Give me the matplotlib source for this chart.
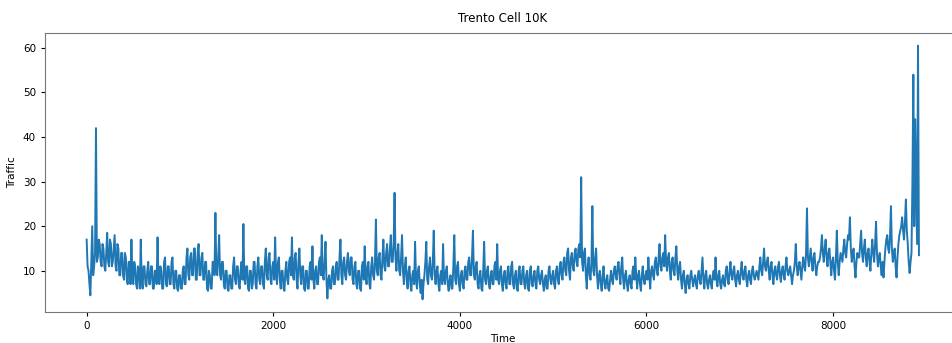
import matplotlib
matplotlib.use('Agg')
import matplotlib.pyplot as plt

# traffic readings, one every 10 time steps
step = 10
traffic = [
    17, 11, 10, 7, 4.5, 12, 20, 9, 11, 14, 42, 12, 13, 17, 16, 12, 11, 16, 15, 11,
    10, 14, 18.5, 12, 11, 17, 16, 11, 12, 15, 18, 11, 10, 16, 15, 9, 9, 14, 14, 9,
    8, 14, 13, 8, 7, 12, 12, 7, 17, 9, 7, 12, 11, 7, 6, 11, 10, 6, 17, 8,
    6, 11, 11, 7, 6.5, 10, 12, 7, 7, 11, 11, 6, 6, 10, 10, 7, 17.5, 8, 7, 11,
    10, 6, 6, 12, 13, 7, 6.5, 11, 11, 7, 7, 12, 13, 7, 6, 10, 10, 6, 5.5, 9,
    9, 6, 6, 10, 11, 7, 7, 13, 15, 9, 8, 13, 14, 9, 9, 15, 15, 8, 8, 14,
    16, 9, 9, 13, 14, 8, 8, 12, 12, 6, 5.5, 10, 9, 6, 6, 12, 12, 9, 23, 10,
    9, 13, 18, 9, 8, 12, 12, 7, 6, 10, 10, 6, 5.5, 9, 9, 6, 6, 11, 13, 8,
    7, 11, 11, 7, 6, 10, 12, 8, 20.5, 8, 7, 11, 11, 6, 5.5, 10, 10, 6, 7, 12,
    12, 7, 6, 11, 13, 8, 7, 11, 11, 7, 6, 12, 15, 9, 8, 13, 14, 8, 7, 11,
    12, 8, 17.5, 9, 7, 12, 13, 8, 6, 10, 10, 6, 5.5, 10, 12, 8, 7, 12, 13, 9,
    17.5, 9, 8, 13, 14, 8, 6, 12, 15, 9, 7, 11, 11, 6, 5.5, 10, 10, 6, 6, 11,
    12, 8, 15.5, 8, 6, 10, 11, 7, 7, 12, 13, 9, 18, 9, 8, 12, 16.5, 8, 3.8, 8,
    9, 6, 6, 10, 11, 7, 7, 11, 12, 8, 8, 13, 17, 9, 7, 12, 13, 9, 8, 12,
    14, 10, 9, 13, 13, 8, 7, 11, 12, 7, 6, 10, 10, 6, 5.5, 11, 12, 8, 15.5, 9,
    7, 11, 12, 7, 6, 11, 13, 9, 8, 12, 21.5, 10, 9, 13, 14, 9, 8, 13, 17, 11,
    10, 14, 16, 11, 11, 15, 18, 12, 12, 16, 27.5, 13, 10, 14, 16, 10, 9, 13, 18, 10,
    7, 11, 13, 8, 6, 10, 11, 7, 5.5, 9, 10, 7, 16.5, 8, 6, 10, 11, 7, 5, 8,
    3.6, 7, 9, 12, 16.5, 8, 7, 11, 13, 9, 8, 12, 19, 9, 7, 10, 11, 7, 5.5, 9,
    10, 7, 16, 8, 7, 10, 11, 7, 5.5, 8, 9, 6, 6, 11, 18, 8, 7, 11, 12, 7,
    5.5, 9, 10, 7, 6, 10, 11, 8, 8, 12, 13, 9, 9, 13, 19, 9, 8, 11, 12, 7,
    6, 9, 10, 6, 5.5, 10, 16.5, 8, 7, 10, 11, 7, 6, 9, 10, 7, 7, 11, 12, 8,
    16, 8, 7, 10, 11, 7, 5.5, 9, 10, 7, 6, 10, 11, 7, 7, 11, 12, 7, 6, 9,
    10, 6, 5.5, 10, 11, 7, 7, 10, 11, 7, 6, 9, 10, 6, 5.5, 10, 11, 7, 6.5, 9,
    10, 7, 6, 10, 11, 8, 7, 9, 10, 7, 5.5, 8, 9, 6, 6, 10, 11, 8, 7, 9,
    10, 7, 6, 10, 11, 8, 7, 11, 12, 9, 8, 12, 13, 10, 9, 14, 15, 10, 8, 13,
    14, 11, 10, 14, 15, 12, 11, 15, 16, 13, 31, 12, 10, 14, 15, 9, 6, 11, 13, 9,
    8, 12, 24.5, 10, 9, 13, 15, 9, 6, 9, 10, 7, 5.5, 9, 11, 7, 6, 8, 9, 6,
    5.5, 8, 10, 8, 7, 10, 11, 9, 8, 11, 12, 9, 7, 11, 13, 8, 6, 9, 10, 7,
    5.5, 8, 9, 7, 6, 10, 11, 8, 13, 9, 6, 9, 10, 7, 5.5, 9, 11, 8, 7, 9,
    10, 8, 13, 9, 6, 10, 11, 9, 8, 12, 13, 10, 9, 13, 16, 11, 10, 13, 14, 11,
    18, 12, 10, 13, 14, 10, 8, 12, 13, 10, 9, 13, 15.5, 10, 8, 11, 12, 8, 6, 9,
    10, 7, 5, 8, 9, 7, 6, 9, 10, 8, 6.5, 8, 9, 7, 6, 9, 10, 8, 7, 10,
    13, 8, 6, 9, 10, 7, 6, 8, 9, 7, 6, 9, 10, 8, 13, 8, 6.5, 9, 10, 7,
    6, 8, 9, 7, 6.5, 10, 11, 8, 7, 10, 12, 9, 8, 10, 11, 8, 6.5, 9, 10, 8,
    7, 10, 12, 9, 8, 10, 11, 8, 6.5, 9, 10, 8, 7, 10, 11, 9, 8, 9, 10, 9,
    8, 11, 13, 10, 9, 12, 15, 11, 10, 12, 13, 10, 8, 11, 12, 9, 7, 10, 11, 9,
    8, 11, 12, 9, 7.5, 10, 11, 9, 8, 11, 13, 10, 9, 10, 11, 9, 7, 9, 10, 12,
    16, 11, 9, 11, 12, 10, 8, 11, 13, 11, 10, 14, 24, 13, 11, 13, 15, 12, 10, 13,
    14, 11, 9, 11, 12, 12, 13, 15, 18, 14, 12, 15, 17, 13, 11, 14, 15, 12, 9, 12,
    13, 10, 8, 13, 19, 12, 9, 12, 14, 13, 12, 15, 17, 14, 13, 16, 18, 17, 22, 15,
    12, 14, 15, 11, 8.5, 12, 14, 13, 13, 16, 19, 14, 12, 15, 17, 13, 11, 14, 15, 12,
    10, 14, 17, 14, 12, 16, 21, 14, 11, 13, 14, 11, 9, 12, 8.5, 12, 15, 17, 18, 15,
    14, 18, 24.5, 15, 12, 14, 15, 11, 8.5, 13, 16, 18, 19, 20, 22, 19, 17, 21, 26, 19,
    16, 12, 9.5, 12, 14, 30, 54, 20, 44, 30, 16, 60.5, 13.5,
]
time = [i * step for i in range(len(traffic))]

fig = plt.figure(figsize=(9.52, 3.43), dpi=100)
# the reference is cropped on the right, so the axes run past the figure edge
ax = fig.add_axes([0.0473, 0.0904, 0.9617, 0.8134])
ax.plot(time, traffic, color='#1f77b4', linewidth=1.4)

ax.set_title('Trento Cell 10K', fontsize=8.5, pad=8)
ax.set_xlabel('Time', fontsize=7.5, labelpad=2)
ax.set_ylabel('Traffic', fontsize=7.5, labelpad=4)
ax.tick_params(labelsize=7.5, length=3)
for s in ax.spines.values():
    s.set_color('#777777')

fig.savefig('out.png', dpi=100)
